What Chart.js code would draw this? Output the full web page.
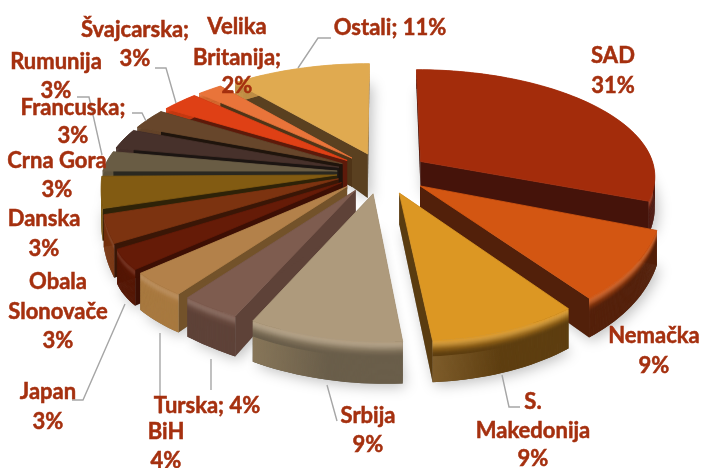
<!DOCTYPE html>
<html><head><meta charset="utf-8">
<style>html,body{margin:0;padding:0;background:#fff}#w{position:relative;width:701px;height:468px}</style>
<script src="https://cdn.jsdelivr.net/npm/chart.js@4"></script>
</head><body><div id="w"><canvas id="c" width="701" height="468"></canvas></div>
<script>
const categories = ['SAD','Nemačka','S. Makedonija','Srbija','Turska','BiH','Japan','Obala Slonovače','Danska','Crna Gora','Francuska','Rumunija','Švajcarska','Velika Britanija','Ostali'];
const values = [31,9,9,9,4,4,3,3,3,3,3,3,3,2,11];
const topColors = ['#a32c0b','#d35612','#dc9723','#ae9a7c','#7e5c4f','#b3814a','#651b07','#7c3310','#825b12','#695c44','#47312b','#67462b','#df4015','#e9743a','#e0aa50'];
const rimColors = ['#4a130a','#54200a','#5e3e10','#6a5e4a','#5e4238','#a8793f','#551705','#7a3510','#7f5a12','#665a42','#47312b','#67462b','#c83a12','#d96a30','#c9964a'];
const edgeColors = ['#45130a','#52200a','#5a3c10','#625844','#5e4238','#73522a','#3d0f04','#3a1606','#2e2208','#2a2820','#1c1512','#1f140c','#5d1a0a','#4f3417','#5a4020'];
const labelLines = [
  [['SAD','31%'],613,[55,85]],
  [['Nemačka','9%'],654,[335,365]],
  [['S.','Makedonija','9%'],533,[401,430,458]],
  [['Srbija','9%'],368,[415,444]],
  [['Turska; 4%'],207,[405]],
  [['BiH','4%'],166,[431,460]],
  [['Japan','3%'],48,[391,421]],
  [['Obala','Slonovače','3%'],58,[281,311,340]],
  [['Danska','3%'],44,[218,248]],
  [['Crna Gora','3%'],57,[160,189]],
  [['Francuska;','3%'],73,[107,135]],
  [['Rumunija','3%'],56,[61,90]],
  [['Švajcarska;','3%'],135,[29,58]],
  [['Velika','Britanija;','2%'],237,[26,57,85]],
  [['Ostali; 11%'],390,[27]]
];
const leaderLines = [
  [[298,68],[318,38],[331,38]],
  [[176,103],[166,68],[155,68]],
  [[102,155],[89,97],[77,97]],
  [[146,121],[142,113],[132,113]],
  [[125,304],[83,400],[72,400]],
  [[160,333],[160,414]],
  [[211,359],[211,390]],
  [[327,385],[337,421]],
  [[502,375],[509,407],[520,407]]
];
const PERSP = 0.125, SQUASH = 0.451, EXPLODE = 0.196, RADIUS_X = 235, FRONT_SHIFT = 10;

function hex(c){return [1,3,5].map(i=>parseInt(c.substr(i,2),16));}
function mixRGB(A,B,t){return A.map((v,i)=>v+(B[i]-v)*t);}
const wallH = v => 30 + 10*v;

const pie3d = {
  id:'pie3d',
  beforeDatasetsDraw(chart){
    const ctx = chart.ctx, arcs = chart.getDatasetMeta(0).data;
    const cx = arcs[0].x, cy = arcs[0].y;
    const proj = (x,v)=>{
      const s=1/(1-PERSP*v),f=Math.max(v,0),lf=Math.min(f/0.5,1),lx=Math.max(-x-0.5,0);
      const sag=26*Math.max(v-0.4,0)+70*lx*lx*lf;
      return [cx+x*RADIUS_X*s+FRONT_SHIFT*f*f+8*Math.min(lx/0.3,1)*lf, cy+v*RADIUS_X*SQUASH*s+sag, wallH(v)];
    };
    const slices = arcs.map((arc,i)=>{
      const a0 = arc.startAngle+Math.PI/2, a1 = arc.endAngle+Math.PI/2, m=(a0+a1)/2;
      const ox = EXPLODE*Math.sin(m), ov = -EXPLODE*Math.cos(m);
      const n = Math.max(4,Math.ceil((a1-a0)/0.03));
      const rim=[];
      for(let k=0;k<=n;k++){const a=a0+(a1-a0)*k/n;rim.push(proj(ox+Math.sin(a),ov-Math.cos(a)));}
      const apex=proj(ox,ov);
      if(i===values.length-1) apex[2]+=16;
      return {i,m,apex,rim,depth:ov-Math.cos(m)};
    });
    const poly=(pts,fill)=>{ctx.beginPath();pts.forEach((p,j)=>j?ctx.lineTo(p[0],p[1]):ctx.moveTo(p[0],p[1]));ctx.closePath();ctx.fillStyle=fill;ctx.fill();};
    const down=(p,t=1)=>[p[0],p[1]+p[2]*t,p[2]];
    ctx.save();
    ctx.lineJoin='round';
    ctx.save();
    ctx.shadowColor='rgba(0,0,0,.26)';ctx.shadowBlur=14;ctx.shadowOffsetY=3;ctx.shadowOffsetX=3;
    slices.forEach(s=>{poly([down(s.apex),...s.rim.map(p=>down(p))],'#999');});
    ctx.restore();
    [...slices].sort((a,b)=>a.depth-b.depth).forEach(s=>{
      const i=s.i, top=topColors[i], rim=rimColors[i], edge=edgeColors[i];
      const T=hex(top),R=hex(rim),W=[255,255,255];
      const c0=s.rim[0], c1=s.rim[s.rim.length-1];
      poly([s.apex,c0,down(c0),down(s.apex)],edge);
      poly([s.apex,c1,down(c1),down(s.apex)],edge);
      const bands=40;
      for(let b=0;b<bands;b++){
        const t0=b/bands,t1=(b+1)/bands;
        const q=Math.min(1,t1/0.38);
        const lit=mixRGB(T,W,0.13*Math.sin(Math.min(1,q*1.6)*Math.PI));
        const c=mixRGB(lit,R,q*q*(3-2*q)).map(Math.round);
        poly([...s.rim.map(p=>down(p,t0)),...[...s.rim].reverse().map(p=>down(p,Math.min(1,t1+0.02)))],'rgb('+c.join(',')+')');
      }
      if(s.depth>0.9 && i<4){
        const g=ctx.createLinearGradient(c1[0],0,(c0[0]+c1[0])/2,0);
        g.addColorStop(0,'rgba(255,215,150,.2)');g.addColorStop(1,'rgba(255,215,150,0)');
        poly([...s.rim.map(p=>down(p,.38)),...[...s.rim].reverse().map(p=>down(p,1))],g);
      }
      poly([s.apex,...s.rim],top);
      ctx.lineWidth=0.8;ctx.strokeStyle=top;ctx.stroke();
    });
    ctx.restore();
    return false;
  },
  afterDraw(chart){
    const ctx=chart.ctx;
    ctx.save();
    ctx.strokeStyle='#a6a6a6';ctx.lineWidth=1.4;
    leaderLines.forEach(l=>{ctx.beginPath();l.forEach((p,j)=>j?ctx.lineTo(p[0],p[1]):ctx.moveTo(p[0],p[1]));ctx.stroke();});
    ctx.font='bold 22px Lato';
    ctx.textAlign='center';ctx.textBaseline='alphabetic';
    ctx.fillStyle='#a5300f';ctx.strokeStyle='#a5300f';ctx.lineWidth=0.5;
    labelLines.forEach(([lines,x,ys])=>lines.forEach((t,j)=>{ctx.fillText(t,x,ys[j]+8);ctx.strokeText(t,x,ys[j]+8);}));
    ctx.restore();
  }
};

new Chart(document.getElementById('c'),{
  type:'pie',
  data:{labels:categories,datasets:[{data:values,backgroundColor:topColors,borderWidth:0}]},
  plugins:[pie3d],
  options:{
    responsive:false,animation:false,rotation:0,
    layout:{padding:{left:65,right:0,top:0,bottom:122}},
    plugins:{legend:{display:false},tooltip:{enabled:false},title:{display:false}}
  }
});
</script></body></html>
